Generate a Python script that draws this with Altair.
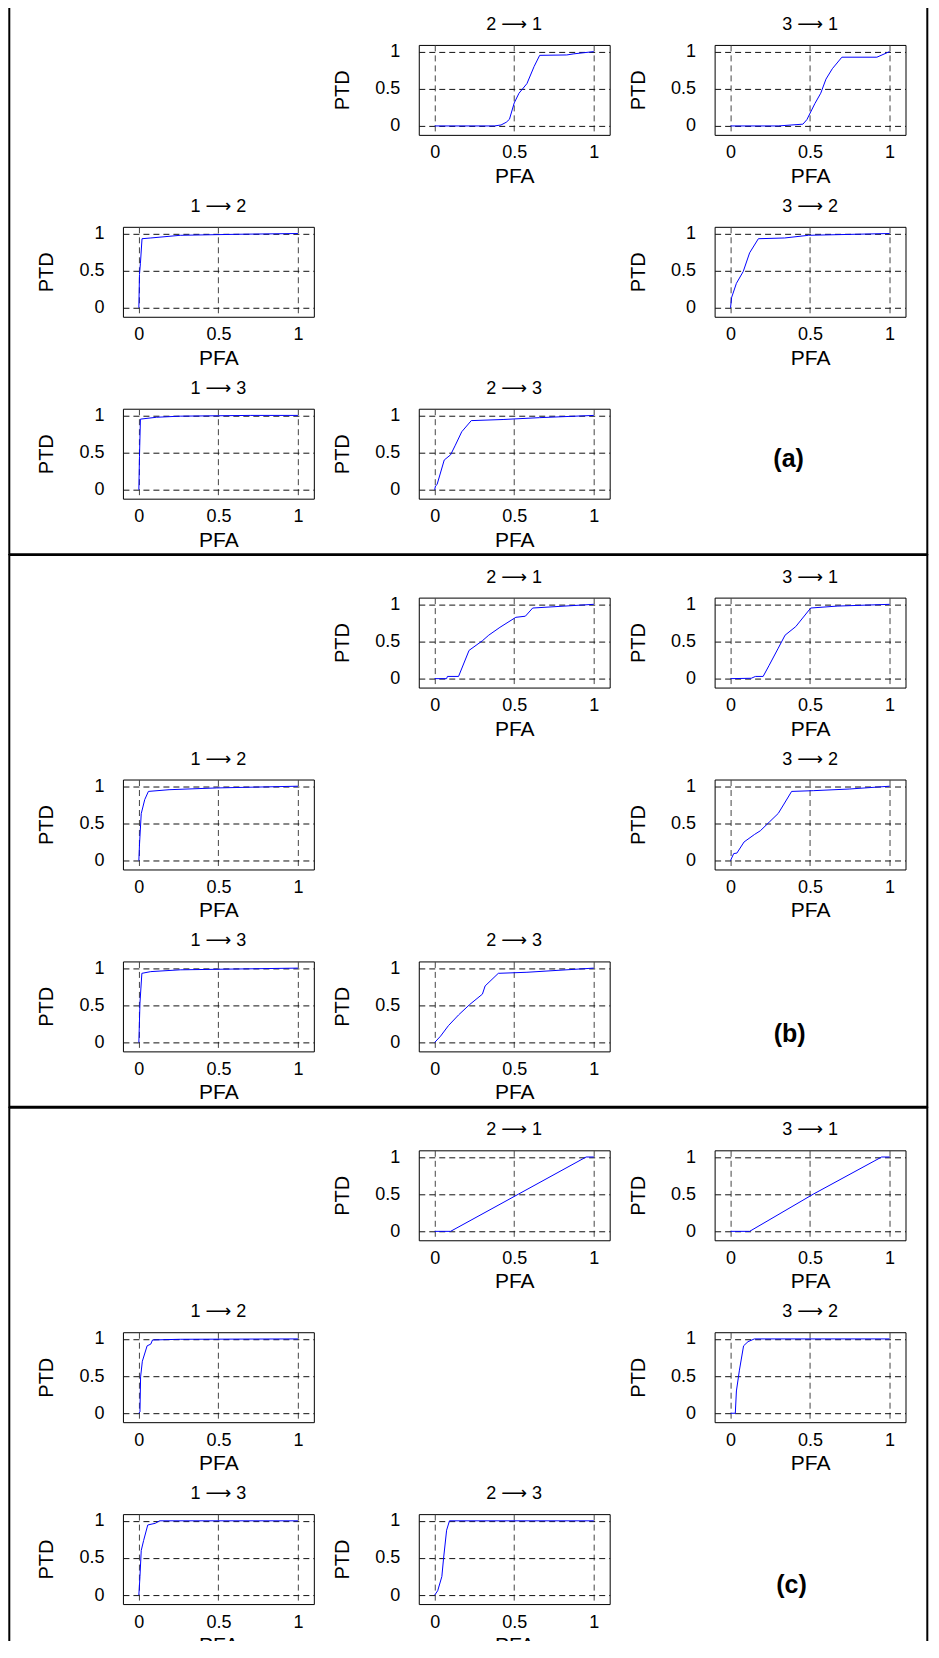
import altair as alt
import pandas as pd

FONT = "Liberation Sans"
TITLE_FONT = "Liberation Sans, DejaVu Sans"

# ---------------- data ----------------
SECTION_LABELS = ["(a)", "(b)", "(c)"]
TITLES = {"21": "2 ⟶ 1", "31": "3 ⟶ 1", "12": "1 ⟶ 2", "32": "3 ⟶ 2", "13": "1 ⟶ 3", "23": "2 ⟶ 3"}
TICKS = [0, 0.5, 1]

# section (a)
A21_PFA = [0, 0.375, 0.417, 0.45, 0.47, 0.5, 0.53, 0.58, 0.625, 0.66, 0.83, 0.875, 1.0]
A21_PTD = [0, 0, 0.013, 0.05, 0.09, 0.31, 0.44, 0.57, 0.8, 0.95, 0.955, 0.97, 1.0]
A31_PFA = [0, 0.3, 0.455, 0.48, 0.53, 0.567, 0.6, 0.64, 0.7, 0.92, 1.0]
A31_PTD = [0, 0, 0.024, 0.085, 0.3, 0.44, 0.63, 0.77, 0.925, 0.925, 1.0]
A12_PFA = [0, 0.004, 0.01, 0.02, 0.075, 0.26, 0.63, 1.0]
A12_PTD = [0, 0.45, 0.6, 0.93, 0.94, 0.976, 0.99, 1.0]
A32_PFA = [0, 0.007, 0.037, 0.08, 0.12, 0.175, 0.34, 0.49, 1.0]
A32_PTD = [0, 0.14, 0.33, 0.49, 0.74, 0.93, 0.94, 0.976, 1.0]
A13_PFA = [0, 0.004, 0.01, 0.11, 0.26, 0.7, 1.0]
A13_PTD = [0, 0.45, 0.95, 0.975, 0.99, 1.0, 1.0]
A23_PFA = [0, 0.005, 0.015, 0.06, 0.1, 0.13, 0.17, 0.23, 0.43, 0.66, 1.0]
A23_PTD = [0, 0.05, 0.07, 0.4, 0.47, 0.6, 0.78, 0.93, 0.945, 0.97, 1.0]

# section (b)
B21_PFA = [0, 0.075, 0.08, 0.15, 0.216, 0.3, 0.34, 0.41, 0.51, 0.57, 0.616, 1.0]
B21_PTD = [0, 0, 0.03, 0.03, 0.38, 0.51, 0.585, 0.69, 0.825, 0.84, 0.95, 1.0]
B31_PFA = [0, 0.13, 0.157, 0.205, 0.243, 0.3, 0.343, 0.41, 0.504, 0.67, 1.0]
B31_PTD = [0, 0.005, 0.03, 0.03, 0.18, 0.41, 0.585, 0.7, 0.95, 0.976, 1.0]
B12_PFA = [0, 0.004, 0.015, 0.037, 0.06, 0.19, 0.49, 1.0]
B12_PTD = [0, 0.21, 0.63, 0.82, 0.93, 0.953, 0.977, 1.0]
B32_PFA = [0, 0.02, 0.04, 0.085, 0.15, 0.187, 0.243, 0.3, 0.336, 0.384, 0.52, 0.746, 1.0]
B32_PTD = [0, 0.094, 0.1, 0.25, 0.35, 0.4, 0.516, 0.634, 0.76, 0.93, 0.94, 0.962, 1.0]
B13_PFA = [0, 0.007, 0.019, 0.075, 0.26, 1.0]
B13_PTD = [0, 0.53, 0.93, 0.953, 0.977, 1.0]
B23_PFA = [0, 0.037, 0.086, 0.15, 0.22, 0.3, 0.317, 0.4, 0.58, 1.0]
B23_PTD = [0, 0.085, 0.225, 0.37, 0.51, 0.65, 0.76, 0.93, 0.944, 1.0]

# section (c)
C21_PFA = [0, 0.1, 0.526, 0.952, 1.0]
C21_PTD = [0, 0, 0.5, 1.0, 1.0]
C31_PFA = [0, 0.12, 0.52, 0.95, 1.0]
C31_PTD = [0, 0, 0.5, 1.0, 1.0]
C12_PFA = [0, 0.007, 0.011, 0.022, 0.052, 0.075, 0.086, 0.26, 1.0]
C12_PTD = [0, 0.02, 0.49, 0.7, 0.907, 0.93, 0.986, 0.995, 1.0]
C32_PFA = [0, 0.03, 0.037, 0.056, 0.082, 0.11, 0.15, 1.0]
C32_PTD = [0, 0, 0.3, 0.58, 0.907, 0.963, 1.0, 1.0]
C13_PFA = [0, 0.007, 0.015, 0.03, 0.056, 0.104, 0.13, 1.0]
C13_PTD = [0, 0.25, 0.6, 0.735, 0.944, 0.967, 1.0, 1.0]
C23_PFA = [0, 0.019, 0.045, 0.056, 0.075, 0.093, 1.0]
C23_PTD = [0, 0.06, 0.25, 0.5, 0.874, 1.0, 1.0]

SECTIONS = [
    {"21": (A21_PFA, A21_PTD), "31": (A31_PFA, A31_PTD), "12": (A12_PFA, A12_PTD),
     "32": (A32_PFA, A32_PTD), "13": (A13_PFA, A13_PTD), "23": (A23_PFA, A23_PTD)},
    {"21": (B21_PFA, B21_PTD), "31": (B31_PFA, B31_PTD), "12": (B12_PFA, B12_PTD),
     "32": (B32_PFA, B32_PTD), "13": (B13_PFA, B13_PTD), "23": (B23_PFA, B23_PTD)},
    {"21": (C21_PFA, C21_PTD), "31": (C31_PFA, C31_PTD), "12": (C12_PFA, C12_PTD),
     "32": (C32_PFA, C32_PTD), "13": (C13_PFA, C13_PTD), "23": (C23_PFA, C23_PTD)},
]

# ---------------- layout / style ----------------
W, H = 191, 90
COL_GAP, ROW_GAP = 105, 92
LABEL_POS = [(74, 50), (75, 73), (77, 71)]

x_axis = alt.Axis(
    values=TICKS, format="~g", grid=True, gridDash=[6, 4], gridColor="#444", gridWidth=1,
    domain=False, ticks=False, tickSize=0, labelPadding=9, labelFontSize=18, labelFont=FONT,
    labelColor="black", labelFlush=False, labelOverlap=False,
    title="PFA", titleFont=FONT, titleFontSize=21, titleFontWeight="normal", titleColor="black",
    titleX=W / 2, titleY=47.5, titleAlign="center", titleBaseline="alphabetic",
)
y_axis = alt.Axis(
    values=TICKS, format="~g", grid=True, gridDash=[6, 4], gridColor="#111", gridWidth=1,
    domain=False, ticks=False, tickSize=0, labelPadding=19, labelFontSize=18, labelFont=FONT,
    labelColor="black", labelFlush=False, labelOverlap=False,
    title="PTD", titleFont=FONT, titleFontSize=20, titleFontWeight="normal", titleColor="black",
    titleX=-76, titleY=H / 2, titleAngle=270, titleAlign="center", titleBaseline="middle",
)


def panel(key, pfa, ptd):
    df = pd.DataFrame({"PFA": pfa, "PTD": ptd, "i": list(range(len(pfa)))})
    line = alt.Chart(df).mark_line(color="#0000ff", strokeWidth=1).encode(
        x=alt.X("PFA:Q", scale=alt.Scale(domain=[-0.1, 1.1], nice=False, zero=False), axis=x_axis),
        y=alt.Y("PTD:Q", scale=alt.Scale(domain=[-0.12, 1.09], nice=False, zero=False), axis=y_axis),
        order="i:Q",
    )
    head = alt.Chart(pd.DataFrame({"t": [TITLES[key]]})).mark_text(
        font=TITLE_FONT, fontSize=18, color="black", align="center", baseline="alphabetic"
    ).encode(text="t:N", x=alt.value(W / 2), y=alt.value(-15))
    return alt.layer(line, head).properties(width=W, height=H)


def blank():
    return alt.Chart(pd.DataFrame({"v": [0]})).mark_point(opacity=0).encode(
        x=alt.value(0), y=alt.value(0)
    ).properties(width=W, height=H, view=alt.ViewBackground(stroke="transparent"))


def border_cell():
    # section frame drawn from the empty top-left cell
    return alt.Chart(pd.DataFrame({"v": [0]})).mark_rect(
        filled=False, stroke="black", strokeWidth=2
    ).encode(
        x=alt.value(-113.7), x2=alt.value(804.8), y=alt.value(-42.7), y2=alt.value(509.5)
    ).properties(width=W, height=H, view=alt.ViewBackground(stroke="transparent"))


def label_cell(i):
    lx, ly = LABEL_POS[i]
    return alt.Chart(pd.DataFrame({"label": [SECTION_LABELS[i]]})).mark_text(
        font=FONT, fontSize=25, fontWeight="bold", align="center", baseline="middle", color="black"
    ).encode(
        text="label:N", x=alt.value(lx), y=alt.value(ly)
    ).properties(width=W, height=H, view=alt.ViewBackground(stroke="transparent"))


def section(i):
    d = SECTIONS[i]
    cells = [
        border_cell(), panel("21", *d["21"]), panel("31", *d["31"]),
        panel("12", *d["12"]), blank(), panel("32", *d["32"]),
        panel("13", *d["13"]), panel("23", *d["23"]), label_cell(i),
    ]
    return alt.concat(*cells, columns=3, spacing={"row": ROW_GAP, "column": COL_GAP}, bounds="flush")


chart = alt.vconcat(section(0), section(1), section(2), spacing=-4).properties(
    padding={"top": -8.5, "left": -1, "right": 1.5, "bottom": -20.5}, background="white"
).configure_view(stroke="black", strokeWidth=1)

chart.save("out.html", embed_options={"renderer": "svg", "actions": False})
